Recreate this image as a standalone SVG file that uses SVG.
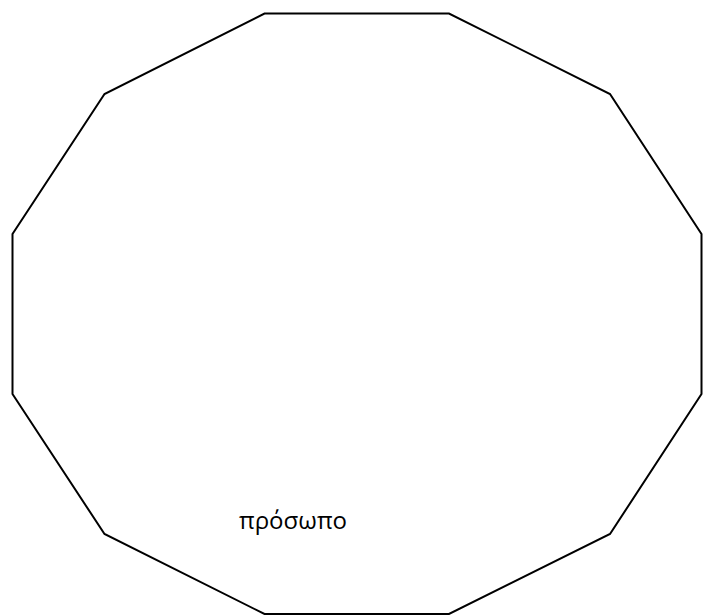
<svg xmlns="http://www.w3.org/2000/svg" width="705" height="615" viewBox="0 0 705 615">
<style>
.shape{fill:#ffffff;stroke:#000000;stroke-width:2;stroke-linejoin:miter}
.lbl{font-family:"Open Sans","Noto Sans","Liberation Sans",sans-serif;font-size:24px;fill:#000000}
</style>
<rect width="705" height="615" fill="#ffffff"/>
<g id="face">
<polygon class="shape" points="264.5,13.5 449,13.5 610,94 701.5,234 701.5,394 610,534 449,614 264.5,614 104.5,534 12.5,394 12.5,234 104.5,94"/>
<text class="lbl" x="239" y="529" textLength="108" lengthAdjust="spacingAndGlyphs">πρόσωπο</text>
</g>
<g id="connectors"/>
</svg>
